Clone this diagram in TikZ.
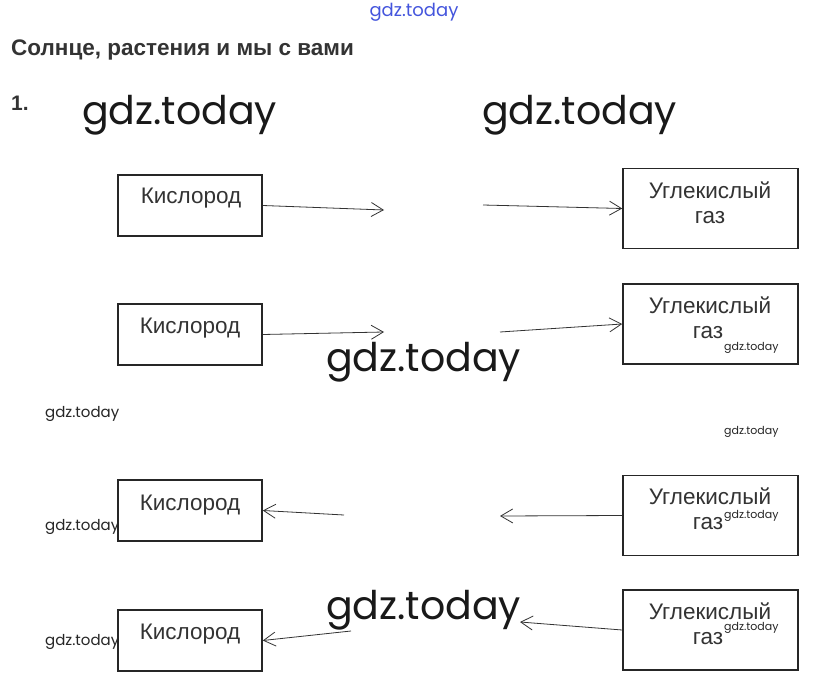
\documentclass[tikz,border=0pt]{standalone}
\usepackage{fontspec}
\setmainfont{Liberation Sans}
\newfontfamily\wm{Poppins}
\usetikzlibrary{arrows.meta}
\definecolor{txt}{HTML}{333333}
\definecolor{wmblue}{HTML}{4455DD}
\tikzset{
  x=1pt,y=-1pt,
  box/.style={draw=black!85,line width=1.6pt,minimum width=144pt,minimum height=61pt,inner sep=0pt},
  rbox/.style={draw=black!85,line width=1.6pt,minimum width=175pt,minimum height=80pt,inner sep=0pt},
  lbl/.style={text=txt,font=\fontsize{22.5}{26}\selectfont,inner sep=0pt},
  conn/.style={draw=black!80,line width=0.8pt,-{Straight Barb[length=12pt,width=14pt,line width=0.8pt]}},
  bigwm/.style={font=\wm\fontsize{39.5}{44}\selectfont,text=black!90,inner sep=0pt,anchor=west},
  smallwm/.style={font=\wm\fontsize{15}{18}\selectfont,text=black!85,inner sep=0pt,anchor=west},
  tinywm/.style={font=\wm\fontsize{11}{13}\selectfont,text=black!85,inner sep=0pt,anchor=west}
}
\begin{document}
\begin{tikzpicture}
\useasboundingbox[fill=white] (0,0) rectangle (827,687);
% header
\node[font=\wm\fontsize{18}{20}\selectfont,text=wmblue,inner sep=0pt] (wtop) at (414,12) {gdz.today};
\node[font=\bfseries\fontsize{22.5}{26}\selectfont,text=txt,anchor=west,inner sep=0pt] (title) at (11,50) {Солнце, растения и мы с вами};
\node[font=\bfseries\fontsize{21}{24}\selectfont,text=txt,anchor=west,inner sep=0pt] (num) at (11,103) {1.};
% boxes
\node[box] (k1) at (190,205.5) {};
\node[box] (k2) at (190,334.5) {};
\node[box] (k3) at (190,510.5) {};
\node[box] (k4) at (190,640.5) {};
\node[rbox] (u1) at (710.5,208.5) {};
\node[rbox] (u2) at (710.5,324) {};
\node[rbox] (u3) at (710.5,515.5) {};
\node[rbox] (u4) at (710.5,630) {};
% labels
\node[lbl] (tk1) at (191,198) {Кислород};
\node[lbl] (tk2) at (190,328) {Кислород};
\node[lbl] (tk3) at (190,505) {Кислород};
\node[lbl] (tk4) at (190,634) {Кислород};
\node[lbl] (tu1a) at (710,190) {Углекислый};
\node[lbl] (tu1b) at (710,218) {газ};
\node[lbl] (tu2a) at (710,305) {Углекислый};
\node[lbl] (tu2b) at (708,333) {газ};
\node[lbl] (tu3a) at (710,496) {Углекислый};
\node[lbl] (tu3b) at (708,524) {газ};
\node[lbl] (tu4a) at (710,611) {Углекислый};
\node[lbl] (tu4b) at (708,639) {газ};
% free ends
\coordinate (e1) at (384,210);
\coordinate (s1) at (483,205);
\coordinate (e2) at (384,332);
\coordinate (s2) at (500,332);
\coordinate (s3) at (344,515);
\coordinate (e3) at (500,516);
\coordinate (s4) at (351,631);
\coordinate (e4) at (520,622);
% connectors
\draw[conn] (k1.east) -- (e1);
\draw[conn] (s1) -- (u1.west);
\draw[conn] (k2.east) -- (e2);
\draw[conn] (s2) -- (u2.west);
\draw[conn] (s3) -- (k3.east);
\draw[conn] (u3.west) -- (e3);
\draw[conn] (s4) -- (k4.east);
\draw[conn] (u4.west) -- (e4);
% watermarks
\node[bigwm] (w1) at (82,115) {gdz.today};
\node[bigwm] (w2) at (482,115) {gdz.today};
\node[bigwm] (w3) at (326,362) {gdz.today};
\node[bigwm] (w4) at (326,610) {gdz.today};
\node[smallwm] (w5) at (45,414) {gdz.today};
\node[smallwm] (w6) at (45,527) {gdz.today};
\node[smallwm] (w7) at (45,642) {gdz.today};
\node[tinywm] (w8) at (724,348) {gdz.today};
\node[tinywm] (w9) at (724,432) {gdz.today};
\node[tinywm] (w10) at (724,516) {gdz.today};
\node[tinywm] (w11) at (724,628) {gdz.today};
\end{tikzpicture}
\end{document}
